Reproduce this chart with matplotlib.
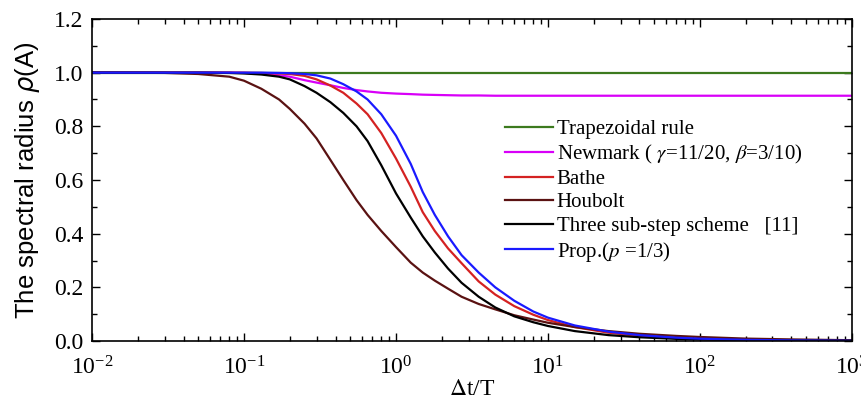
import numpy as np
import matplotlib
matplotlib.use("Agg")
import matplotlib.pyplot as plt
from matplotlib.ticker import LogLocator, MultipleLocator, NullFormatter

plt.rcParams['font.family'] = 'serif'
plt.rcParams['font.serif'] = ['Liberation Serif', 'DejaVu Serif']
plt.rcParams['mathtext.fontset'] = 'stix'

# Data (Δt/T vs spectral radius)
dt_T = [0.01, 0.03, 0.05, 0.08, 0.1, 0.13, 0.17, 0.2, 0.25, 0.3, 0.37, 0.45,
        0.55, 0.65, 0.8, 1.0, 1.25, 1.5, 1.8, 2.2, 2.7, 3.5, 4.5, 6, 8, 10,
        15, 25, 40, 70, 100, 200, 400, 1000]

trapezoidal = [1.0] * len(dt_T)
newmark = [1.0, 1.0, 1.0, 1.0, 0.999, 0.997, 0.99, 0.985, 0.972, 0.963, 0.953, 0.943,
           0.935, 0.93, 0.925, 0.922, 0.92, 0.918, 0.917, 0.916, 0.915, 0.915, 0.914, 0.914, 0.914, 0.914,
           0.914, 0.914, 0.914, 0.914, 0.914, 0.914, 0.914, 0.914]
bathe = [1.0, 1.0, 1.0, 1.0, 1.0, 0.999, 0.997, 0.995, 0.988, 0.975, 0.952, 0.925,
         0.885, 0.845, 0.775, 0.68, 0.575, 0.48, 0.41, 0.345, 0.29, 0.222, 0.173, 0.13, 0.098, 0.078,
         0.052, 0.031, 0.0195, 0.011, 0.0078, 0.0039, 0.002, 0.0008]
houbolt = [1.0, 0.999, 0.995, 0.985, 0.97, 0.94, 0.9, 0.865, 0.81, 0.755, 0.675, 0.6,
           0.525, 0.47, 0.41, 0.35, 0.292, 0.255, 0.225, 0.195, 0.165, 0.138, 0.118, 0.096, 0.08, 0.068,
           0.052, 0.037, 0.027, 0.019, 0.015, 0.009, 0.006, 0.003]
three_sub = [1.0, 1.0, 1.0, 0.999, 0.997, 0.993, 0.985, 0.975, 0.95, 0.925, 0.89, 0.85,
             0.8, 0.745, 0.655, 0.55, 0.46, 0.39, 0.33, 0.27, 0.217, 0.165, 0.125, 0.092, 0.07, 0.056,
             0.037, 0.022, 0.014, 0.008, 0.0056, 0.003, 0.0015, 0.0006]
prop = [1.0, 1.0, 1.0, 1.0, 1.0, 1.0, 0.999, 0.998, 0.995, 0.99, 0.978, 0.957,
        0.93, 0.9, 0.845, 0.765, 0.66, 0.555, 0.47, 0.39, 0.32, 0.255, 0.2, 0.15, 0.11, 0.087,
        0.058, 0.035, 0.022, 0.0125, 0.0087, 0.0044, 0.0022, 0.0009]

labels = ['Trapezoidal rule',
          r'Newmark ( $\gamma$=11/20, $\beta$=3/10)',
          'Bathe',
          'Houbolt',
          'Three sub-step scheme   [11]',
          r'Prop.($p$ =1/3)']
colors = ['#3c7a1e', '#d800f8', '#d42222', '#5a1212', '#000000', '#1a1aff']
series = [trapezoidal, newmark, bathe, houbolt, three_sub, prop]

fig = plt.figure(figsize=(8.61, 4.03), dpi=100)
ax = fig.add_axes([0.1069, 0.1538, 0.8826, 0.7991])

for y, c, lab in zip(series, colors, labels):
    ax.plot(dt_T, y, color=c, lw=1.6, label=lab)

ax.set_xscale('log')
ax.set_xlim(1e-2, 1e3)
ax.set_ylim(0, 1.2)
ax.yaxis.set_major_locator(MultipleLocator(0.2))
ax.yaxis.set_minor_locator(MultipleLocator(0.1))
ax.yaxis.set_major_formatter(plt.FormatStrFormatter('%.1f'))
ax.xaxis.set_minor_locator(LogLocator(base=10, subs=np.arange(2, 10)))
ax.xaxis.set_minor_formatter(NullFormatter())

ax.tick_params(which='both', direction='in', top=True, right=True, labelsize=17)
ax.tick_params(which='major', length=6, width=1)
ax.tick_params(which='minor', length=3.5, width=1)
ax.tick_params(axis='x', pad=11)
ax.tick_params(axis='y', pad=6)
for s in ax.spines.values():
    s.set_linewidth(1.2)

ax.set_xlabel(r'$\Delta$t/T', fontsize=17, labelpad=0)
ax.set_ylabel(r'The spectral radius $\rho$(A)', fontsize=18.5, family='Liberation Sans',
              math_fontfamily='dejavusans', labelpad=9)

ax.legend(loc='upper left', bbox_to_anchor=(0.543, 0.688), frameon=False, fontsize=15,
          handlelength=2.3, handletextpad=0.2, labelspacing=0.18, borderpad=0, borderaxespad=0)

fig.savefig('out.png', dpi=100)
